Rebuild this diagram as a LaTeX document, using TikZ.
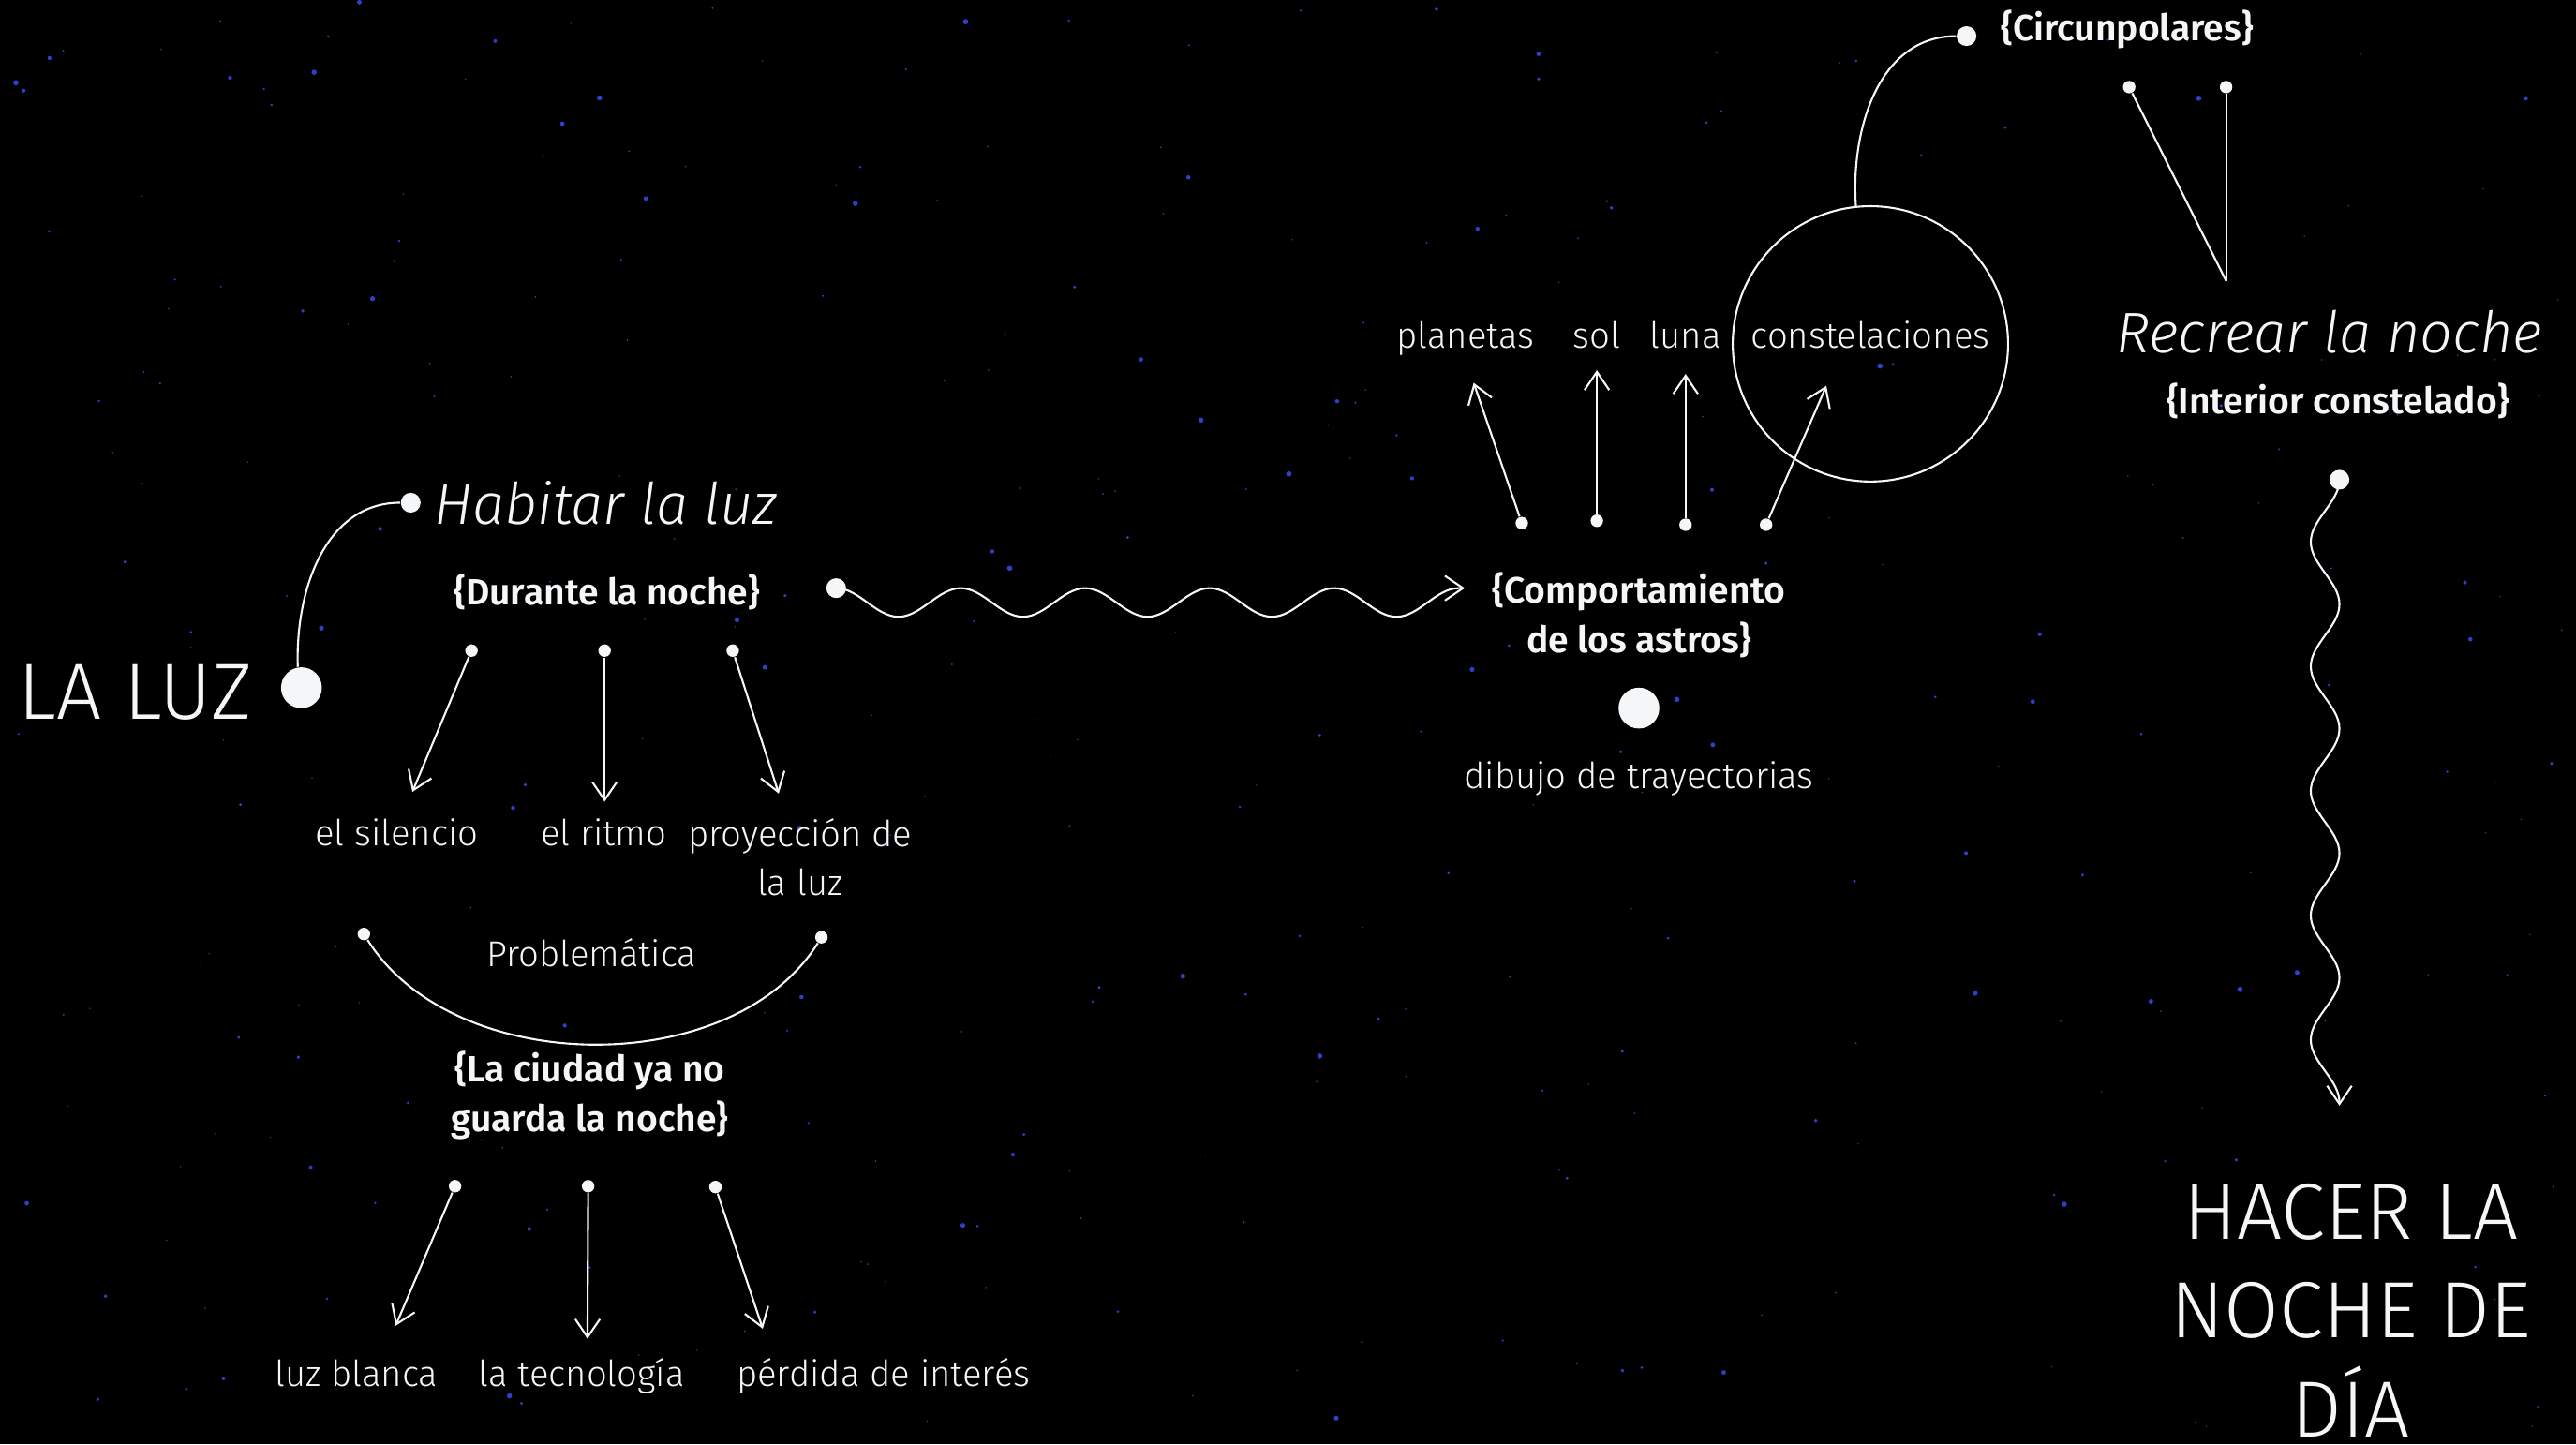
\documentclass[tikz,border=0pt]{standalone}
\usepackage{fontspec}
\usepackage{tikz}
\usetikzlibrary{arrows.meta,positioning,decorations}
\IfFontExistsTF{Fira Sans Light}
  {\newfontfamily\thinfont{Fira Sans Light}}
  {\newfontfamily\thinfont{Fira Sans}}
\IfFontExistsTF{Fira Sans Light Italic}
  {\newfontfamily\slantfont{Fira Sans Light Italic}}
  {\newfontfamily\slantfont{Fira Sans/I}}
\IfFontExistsTF{Fira Sans SemiBold}
  {\newfontfamily\heavyfont{Fira Sans SemiBold}}
  {\newfontfamily\heavyfont{Fira Sans/B}}
\definecolor{nightsky}{HTML}{000000}
\definecolor{starblue}{HTML}{2F3FC8}
\definecolor{chalk}{HTML}{F5F6F8}

% wave that leaves the line at a crest and dips to one side
\pgfdeclaredecoration{crest wave}{dip}{
  \state{dip}[width=\pgfdecorationsegmentlength]{
    \pgfpathcurveto
      {\pgfqpoint{0.18\pgfdecorationsegmentlength}{0pt}}
      {\pgfqpoint{0.32\pgfdecorationsegmentlength}{-\pgfdecorationsegmentamplitude}}
      {\pgfqpoint{0.5\pgfdecorationsegmentlength}{-\pgfdecorationsegmentamplitude}}
    \pgfpathcurveto
      {\pgfqpoint{0.68\pgfdecorationsegmentlength}{-\pgfdecorationsegmentamplitude}}
      {\pgfqpoint{0.82\pgfdecorationsegmentlength}{0pt}}
      {\pgfqpoint{\pgfdecorationsegmentlength}{0pt}}
  }
  \state{final}{\pgfpathlineto{\pgfpointdecoratedpathlast}}
}

\begin{document}
\begin{tikzpicture}[
  x=0.17532mm, y=-0.17532mm,
  big/.style={font=\thinfont\fontsize{24.2}{30}\selectfont, text=chalk, inner sep=0pt, align=center},
  slant/.style={font=\slantfont\fontsize{17.4}{22}\selectfont, text=chalk, inner sep=0pt},
  word/.style={font=\thinfont\fontsize{10.9}{14.8}\selectfont, text=chalk, inner sep=0pt, align=center},
  brace/.style={font=\heavyfont\fontsize{11.1}{15.2}\selectfont, text=chalk, inner sep=0pt, align=center},
  spot/.style={circle, fill=chalk, inner sep=0pt, minimum size=3.8pt},
  knot/.style={spot, minimum size=6pt},
  bigspot/.style={spot, minimum size=12.4pt},
  link/.style={draw=chalk, line width=0.6pt},
  pointer/.style={link, -{Straight Barb[length=5.5pt, width=7.5pt]}},
  wavy/.style={pointer, decorate, decoration={crest wave, segment length=37.8pt, amplitude=8.7pt}},
]
  % night sky
  \fill[nightsky] (0,0) rectangle (1568,879);
  \useasboundingbox (0,0) rectangle (1568,879);
  \pgfmathsetseed{42}
  \foreach \i in {1,...,320} {
    \pgfmathsetmacro\sx{rnd*1568}
    \pgfmathsetmacro\sy{rnd*879}
    \pgfmathsetmacro\sr{0.45+1.2*rnd^3}
    \fill[starblue] (\sx,\sy) circle (\sr);
  }

  % LA LUZ (multi-line nodes sit on their last baseline)
  \node[big, anchor=base] (luz) at (82.5,437.5) {LA LUZ};
  \node[bigspot] (luzdot) at (183.5,418.6) {};
  \node[knot] (habdot) at (250,306) {};
  \node[slant, anchor=base west] (habitar) at (264,319) {Habitar la luz};
  \node[brace, anchor=base] (durante) at (369.5,368) {\{Durante la noche\}};

  \node[spot] (d1) at (287,396) {};
  \node[spot] (d2) at (368,396) {};
  \node[spot] (d3) at (446,396) {};
  \coordinate (t1) at (251,482);
  \coordinate (t2) at (368,488);
  \coordinate (t3) at (474,483);
  \node[word, anchor=base] (silencio) at (241.5,515) {el silencio};
  \node[word, anchor=base] (ritmo) at (367.5,515) {el ritmo};
  \node[word, anchor=base] (proyeccion) at (487,545) {proyección de\\la luz};

  \node[spot] (p1) at (221.5,568.5) {};
  \node[spot] (p2) at (500,570.5) {};
  \node[word, anchor=base] (problema) at (360,588.6) {Problemática};
  \node[brace, anchor=base] (ciudad) at (359,689) {\{La ciudad ya no\\guarda la noche\}};

  \node[spot] (c1) at (277,722) {};
  \node[spot] (c2) at (358,722) {};
  \node[spot] (c3) at (435.5,722.5) {};
  \coordinate (u1) at (240.8,807);
  \coordinate (u2) at (357.6,815);
  \coordinate (u3) at (464.3,808.8);
  \node[word, anchor=base] (blanca) at (217,844) {luz blanca};
  \node[word, anchor=base] (tecno) at (354,844) {la tecnología};
  \node[word, anchor=base] (interes) at (537.7,844) {pérdida de interés};

  % Comportamiento de los astros
  \node[knot] (wavestart) at (509,358) {};
  \coordinate (wavetip) at (891.6,358);
  \node[brace, anchor=base] (astros) at (997.5,397.4) {\{Comportamiento\\de los astros\}};
  \node[bigspot] (astrodot) at (997.6,431) {};
  \node[word, anchor=base] (dibujo) at (997.6,480) {dibujo de trayectorias};

  \node[spot] (a1) at (926.3,318.4) {};
  \node[spot] (a2) at (972,317) {};
  \node[spot] (a3) at (1026,319.4) {};
  \node[spot] (a4) at (1075,319.4) {};
  \coordinate (s1) at (897,233);
  \coordinate (s2) at (972,225.3);
  \coordinate (s3) at (1026,227.6);
  \coordinate (s4) at (1111.7,234.8);
  \node[word, anchor=base] (planetas) at (892,212) {planetas};
  \node[word, anchor=base] (sol) at (972,212) {sol};
  \node[word, anchor=base] (luna) at (1026,212) {luna};
  \node[word, anchor=base] (constel) at (1138.5,212) {constelaciones};
  \node[circle, draw=chalk, line width=0.6pt, inner sep=0pt, minimum size=83.6pt] (constcirc) at (1138.5,209.3) {};

  % Recrear la noche
  \node[knot] (circdot) at (1197,22) {};
  \node[brace, anchor=base west] (circun) at (1217.6,24.7) {\{Circunpolares\}};
  \node[spot] (v1) at (1296,53) {};
  \node[spot] (v2) at (1355,53) {};
  \coordinate (vtip) at (1355,171);
  \node[slant, anchor=base] (recrear) at (1418,214.8) {Recrear la noche};
  \node[brace, anchor=base] (interior) at (1423,252) {\{Interior constelado\}};
  \node[knot] (wavetop) at (1424,292) {};
  \coordinate (wavebottom) at (1424,673);
  \node[big, anchor=base] (hacer) at (1431,874.5) {HACER LA\\NOCHE DE\\DÍA};

  % Connectors
  \draw[link] (luzdot.100) to[out=92, in=180] (habdot.west);
  \draw[pointer] (d1) -- (t1);
  \draw[pointer] (d2) -- (t2);
  \draw[pointer] (d3) -- (t3);
  \draw[link] (p1) to[out=-58, in=-122, looseness=0.92] (p2);
  \draw[pointer] (c1) -- (u1);
  \draw[pointer] (c2) -- (u2);
  \draw[pointer] (c3) -- (u3);
  \draw[wavy] (wavestart.center) -- (wavetip);
  \draw[pointer] (a1) -- (s1);
  \draw[pointer] (a2) -- (s2);
  \draw[pointer] (a3) -- (s3);
  \draw[pointer] (a4) -- (s4);
  \draw[link] (constcirc.96) to[out=94, in=180] (circdot.west);
  \draw[link] (v1) -- (vtip);
  \draw[link] (v2) -- (vtip);
  \draw[wavy] (wavetop.center) -- (wavebottom);
\end{tikzpicture}
\end{document}
